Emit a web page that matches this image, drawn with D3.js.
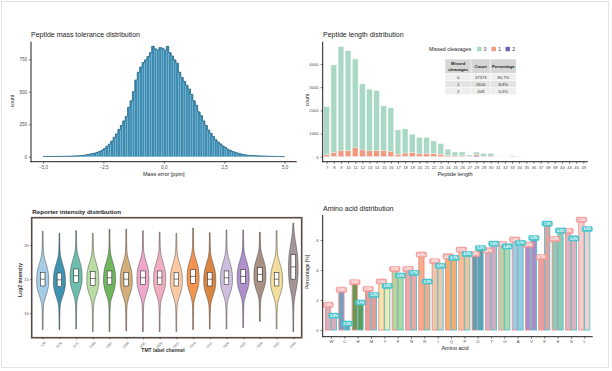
<!DOCTYPE html>
<html><head><meta charset="utf-8">
<script src="https://cdn.jsdelivr.net/npm/d3@7"></script>
<style>
body{margin:0;background:#fff}
text{font-family:"Liberation Sans",Arial,sans-serif}
</style>
</head><body>
<svg id="c" width="612" height="371"></svg>
<script>
// ---------------- DATA ----------------
// Panel 1: mass error histogram (bins of 0.1 ppm from -5 to 5)
const massBinStart = -5;
const massBinWidth = 0.1;
const massErrorCounts = [
  1,1,1,2,1,2,2,2,3,3,4,4,5,6,7,
  8,10,12,16,20,24,28,33,40,50,62,80,97,120,150,
  175,210,240,275,310,380,430,500,590,650,690,725,745,770,800,
  850,830,820,840,835,820,850,800,775,745,720,650,610,580,550,
  520,480,430,395,345,315,275,240,205,180,155,130,112,98,82,
  70,58,48,40,34,28,22,18,15,12,10,9,8,7,6,
  5,5,4,3,3,2,2,1,1,1];
const massErrorTicks = [-5, -2.5, 0, 2.5, 5];
const massCountTicks = [0, 250, 500, 750];

// Panel 2: peptide length by missed cleavages
const peptideLengths = ["7","8","9","10","11","12","13","14","15","16","17","18","19","20","21","22","23","24","25","26","27","28","29","30","31","32","33","34","35","36","37","38","39","40","43","45","49"];
const lengthMc0 = [2075,3770,4500,4305,3830,2850,2665,2595,1925,1880,1050,1045,785,700,680,540,460,275,170,170,55,110,120,115,8,4,30,10,3,2,2,1,1,1,1,1,1];
const lengthMc1 = [80,180,240,250,370,280,240,250,260,220,100,150,180,120,140,130,100,40,30,30,15,60,20,25,2,1,5,2,0,0,0,0,0,0,0,0,0];
const lengthMc2 = [5,10,12,12,15,12,10,10,10,10,8,8,8,8,6,6,5,4,3,3,2,30,2,2,0,0,0,0,0,0,0,0,0,0,0,0,0];
const missedCleavageKeys = ["0","1","2"];
const missedCleavageCounts = [37373, 3616, 208];
const lengthCountTicks = [0, 1000, 2000, 3000, 4000];

// Panel 3: reporter intensity violins
const tmtChannels = ["126","127N","127C","128N","128C","129N","129C","130N","130C","131N","131C","132N","132C","133N","133C","134N"];
const intensityMedian = [15.0,14.9,15.5,15.1,15.2,15.0,15.2,15.2,15.0,15.4,15.0,15.2,15.4,15.7,15.0,16.8];
const intensityQ1 = [14.0,13.9,14.5,14.1,14.2,14.0,14.2,14.2,14.0,14.4,14.0,14.2,14.4,14.7,14.0,15.0];
const intensityQ3 = [16.0,15.9,16.5,16.1,16.2,16.0,16.2,16.2,16.0,16.4,16.0,16.2,16.4,16.7,16.0,18.6];
const intensityMin = [7.6,7.6,7.7,7.3,7.3,7.4,7.3,7.3,7.3,7.6,7.7,7.7,7.9,8.8,7.7,7.3];
const intensityMax = [22.0,21.7,22.1,21.7,22.3,22.3,22.1,21.9,21.7,22.5,21.8,22.2,22.2,21.9,22.1,23.2];
const violinProfileOffset  = [-8,-6,-5,-4.2,-3.6,-3,-2.4,-1.8,-1.2,-0.6,0,0.6,1.2,1.8,2.4,3,3.6,4.2,5,6,8];
const violinProfileDensity = [0.05,0.06,0.08,0.11,0.18,0.34,0.56,0.78,0.93,1,1,0.97,0.88,0.72,0.52,0.32,0.18,0.11,0.08,0.06,0.05];
const violinSpread = [1,1,1,1,1,1,1,1,1,1,1,1,1,1,1,1.45];
const intensityTicks = [10, 15, 20];

// Panel 4: amino acid distribution
const aminoAcids = ["W","C","H","M","Y","F","N","R","I","Q","P","D","T","G","A","V","K","E","S","L"];
const aaPctObserved = [1.55,2.55,3.05,2.6,3.1,3.93,3.93,4.9,4.45,4.78,5.22,4.93,5.18,5.6,5.9,5.55,4.73,5.93,6.47,7.22];
const aaPctReference = [0.82,0.3,1.7,2.2,2.8,3.5,3.67,3.1,4.15,4.67,4.93,5.33,5.62,5.44,5.67,6.0,6.96,6.5,5.98,6.6];
const aaTicks = [0, 2, 4, 6];

// ---------------- STYLE ----------------
const mcColors = {"0":"#a9d9c5","1":"#f09a80","2":"#6c62b4"};
const violinColors = ["#9cc9e6","#2b87a9","#5db7a6","#b3d99b","#5fae4e","#cfa66e","#ee9fc8","#f2a6bb","#fbc49a","#f08a3e","#d6782e","#c9b8dc","#a785c9","#a08577","#f1dc92","#9c8b89"];
const aaColors = ["#d3a3b3","#5d93bb","#4e8d3c","#df8f8f","#f3e5a2","#a9d08e","#e39c9c","#f4a076","#e6c0a3","#f2a35e","#f6b889","#4c8fa6","#c9a2bc","#a9d2a2","#8fc2e0","#9a80c1","#e79191","#84c2aa","#d8a9b9","#f1c9c9"];
const obsColor = "#f28b8b", refColor = "#45c7cd";
const axisCol = "#1e1e1e", tickTxt = "#4d4d4d";
const commaFmt = f => (v => d3.format(f)(v).replace(".", ","));

const svg = d3.select("#c");
svg.append("rect").attr("x",1.5).attr("y",1.5).attr("width",607).attr("height",366)
  .attr("fill","#fff").attr("stroke","#e4e4e4").attr("stroke-width",1);

function line(x1,y1,x2,y2,w=1,c=axisCol){
  svg.append("line").attr("x1",x1).attr("y1",y1).attr("x2",x2).attr("y2",y2)
    .attr("stroke",c).attr("stroke-width",w);
}
function txt(x,y,s,size,opt={}){
  const t = svg.append("text").attr("x",x).attr("y",y).text(s)
    .attr("font-size",size).attr("fill",opt.fill||"#1a1a1a")
    .attr("text-anchor",opt.anchor||"start");
  if(opt.weight) t.attr("font-weight",opt.weight);
  if(opt.rotate!==undefined) t.attr("transform",`rotate(${opt.rotate},${x},${y})`);
  return t;
}
function styleAxis(g, size){
  g.select(".domain").remove();
  g.selectAll(".tick line").attr("stroke",axisCol).attr("stroke-width",0.6);
  g.selectAll(".tick text").attr("font-size",size).attr("fill",tickTxt)
    .attr("font-family","Liberation Sans, Arial, sans-serif");
}

// ============ Panel 1: histogram ============
{
  const x = d3.scaleLinear().domain([-5.5,5.5]).range([31,296.7]);
  const y = d3.scaleLinear().domain([0,750]).range([156.7,59.3]);
  const bins = massErrorCounts.map((c,i)=>({x0:massBinStart+i*massBinWidth, x1:massBinStart+(i+1)*massBinWidth, c}));
  svg.append("g").selectAll("rect").data(bins).join("rect")
    .attr("x",d=>x(d.x0)).attr("width",d=>x(d.x1)-x(d.x0))
    .attr("y",d=>y(d.c)).attr("height",d=>y(0)-y(d.c))
    .attr("fill","#3c8cb2").attr("stroke","#9ccbe0").attr("stroke-width",0.25);
  const pts = bins.map(d=>[d.x0,d.c]).concat([[bins[bins.length-1].x1, bins[bins.length-1].c]]);
  svg.append("path").attr("d", d3.line().x(d=>x(d[0])).y(d=>y(d[1])).curve(d3.curveStepAfter)(pts))
    .attr("fill","none").attr("stroke","#1b5e80").attr("stroke-width",0.8);
  line(31,41.7,31,162.2); line(30.5,161.7,296.7,161.7);
  const gx = svg.append("g").attr("transform","translate(0,161.7)")
    .call(d3.axisBottom(x).tickValues(massErrorTicks).tickSize(2).tickPadding(2).tickFormat(commaFmt(".1f")));
  styleAxis(gx,4.5);
  const gy = svg.append("g").attr("transform","translate(31,0)")
    .call(d3.axisLeft(y).tickValues(massCountTicks).tickSize(2).tickPadding(2).tickFormat(d3.format("d")));
  styleAxis(gy,4.5);
  txt(31,37,"Peptide mass tolerance distribution",7);
  txt(163.8,176,"Mass error [ppm]",5.5,{anchor:"middle"});
  txt(14,101,"count",5,{anchor:"middle",rotate:-90});
}

// ============ Panel 2: peptide length ============
{
  const x = d3.scalePoint().domain(peptideLengths).range([326.7,583.3]);
  const bw = x.step()*0.8;
  const y = d3.scaleLinear().domain([0,4000]).range([156.7,64]);
  const rows = peptideLengths.map((l,i)=>({len:l,"0":lengthMc0[i],"1":lengthMc1[i],"2":lengthMc2[i]}));
  const stacked = d3.stack().keys(["2","1","0"])(rows);
  svg.append("g").selectAll("g").data(stacked).join("g")
    .attr("fill",s=>mcColors[s.key])
    .selectAll("rect").data(s=>s).join("rect")
    .attr("x",d=>x(d.data.len)-bw/2).attr("width",bw)
    .attr("y",d=>y(d[1])).attr("height",d=>Math.max(0,y(d[0])-y(d[1])))
    .attr("stroke","#fff").attr("stroke-width",0.3);
  line(322.7,41.7,322.7,162.2); line(322.2,161.7,587.7,161.7);
  const gx = svg.append("g").attr("transform","translate(0,161.7)")
    .call(d3.axisBottom(x).tickSize(2).tickPadding(2));
  styleAxis(gx,4.2);
  const gy = svg.append("g").attr("transform","translate(322.7,0)")
    .call(d3.axisLeft(y).tickValues(lengthCountTicks).tickSize(2).tickPadding(2).tickFormat(d3.format("d")));
  styleAxis(gy,4.2);
  txt(323,37,"Peptide length distribution",7);
  txt(455,176,"Peptide length",5.5,{anchor:"middle"});
  txt(309,100,"count",5,{anchor:"middle",rotate:-90});

  // legend
  txt(429,51,"Missed cleavages",5.3);
  const lg = [479.3,493.7,507.7];
  missedCleavageKeys.forEach((k,i)=>{
    svg.append("rect").attr("x",lg[i]-2.2).attr("y",46.8).attr("width",4.4).attr("height",4.4).attr("fill",mcColors[k]);
    txt(lg[i]+4.5,51,k,5,{fill:"#333"});
  });
  // table
  const total = d3.sum(missedCleavageCounts);
  const cols = [445.3,471,490.5,516];
  const rowsY = [59.3,73.4,80.4,87.4,94.4];
  svg.append("rect").attr("x",cols[0]).attr("y",rowsY[0]).attr("width",cols[3]-cols[0]).attr("height",rowsY[1]-rowsY[0]).attr("fill","#d6d6d6");
  [0,1,2].forEach(i=>{
    svg.append("rect").attr("x",cols[0]).attr("y",rowsY[i+1]).attr("width",cols[3]-cols[0]).attr("height",rowsY[i+2]-rowsY[i+1])
      .attr("fill", i===1 ? "#e4e4e4" : "#efefef");
  });
  [1,2].forEach(j=>line(cols[j],rowsY[0],cols[j],rowsY[4],0.6,"#fff"));
  [1,2,3].forEach(j=>line(cols[0],rowsY[j],cols[3],rowsY[j],0.6,"#fff"));
  const cx = [(cols[0]+cols[1])/2,(cols[1]+cols[2])/2,(cols[2]+cols[3])/2];
  txt(cx[0],65.3,"Missed",4.2,{anchor:"middle",weight:"bold"});
  txt(cx[0],70.6,"cleavages",4.2,{anchor:"middle",weight:"bold"});
  txt(cx[1],68,"Count",4.2,{anchor:"middle",weight:"bold"});
  txt(cx[2],68,"Percentage",4.2,{anchor:"middle",weight:"bold"});
  missedCleavageKeys.forEach((k,i)=>{
    const yy = rowsY[i+1]+5.1;
    txt(cx[0],yy,k,4.2,{anchor:"middle",fill:"#333"});
    txt(cx[1],yy,String(missedCleavageCounts[i]),4.2,{anchor:"middle",fill:"#333"});
    txt(cx[2],yy,commaFmt(".1f")(missedCleavageCounts[i]/total*100)+"%",4.2,{anchor:"middle",fill:"#333"});
  });
}

// ============ Panel 3: violins ============
{
  const x = d3.scalePoint().domain(tmtChannels).range([42.7,293.3]);
  const y = d3.scaleLinear().domain([10,20]).range([313.3,245]);
  const halfW = 6.0;
  svg.append("rect").attr("x",31.7).attr("y",217.7).attr("width",270).attr("height",120)
    .attr("fill","#fff").attr("stroke","#5a4a44").attr("stroke-width",1.6);
  tmtChannels.forEach((ch,i)=>{
    const cx = x(ch), med = intensityMedian[i], lo = intensityMin[i], hi = intensityMax[i];
    const hw = i===15 ? 4.8 : halfW;
    svg.append("line").attr("x1",cx).attr("x2",cx).attr("y1",y(hi)).attr("y2",y(lo))
      .attr("stroke","#d39aa3").attr("stroke-width",1.3).attr("stroke-dasharray","0.9,1.1");
    const prof = violinProfileOffset.map((o,k)=>({v:med+o*violinSpread[i], w:violinProfileDensity[k]}))
      .filter(p=>p.v>lo && p.v<hi);
    const shape = [{v:lo,w:0.03}].concat(prof).concat([{v:hi,w:0.03}]);
    const area = d3.area().curve(d3.curveMonotoneY)
      .y(d=>y(d.v)).x0(d=>cx-Math.max(0.35,d.w*hw)).x1(d=>cx+Math.max(0.35,d.w*hw));
    svg.append("path").attr("d",area(shape)).attr("fill",violinColors[i]).attr("fill-opacity",0.9)
      .attr("stroke","#3a3a3a").attr("stroke-width",0.45);
    const bwid = 4.6;
    svg.append("rect").attr("x",cx-bwid/2).attr("width",bwid)
      .attr("y",y(intensityQ3[i])).attr("height",y(intensityQ1[i])-y(intensityQ3[i]))
      .attr("fill","#fff").attr("stroke","#222").attr("stroke-width",0.55);
    line(cx-bwid/2,y(med),cx+bwid/2,y(med),0.6,"#222");
  });
  const gy = svg.append("g").attr("transform","translate(31.7,0)")
    .call(d3.axisLeft(y).tickValues(intensityTicks).tickSize(1.5).tickPadding(1.5));
  styleAxis(gy,4);
  const gx = svg.append("g").attr("transform","translate(0,337.7)")
    .call(d3.axisBottom(x).tickSize(1.5).tickPadding(1));
  styleAxis(gx,3.2);
  gx.selectAll(".tick text").attr("text-anchor","end").attr("dy","0.3em")
    .attr("transform","translate(0,3) rotate(-45)");
  txt(32.3,213.5,"Reporter intensity distribution",6.2,{weight:"bold",fill:"#222"});
  txt(163,351.5,"TMT label channel",5,{anchor:"middle",weight:"bold",fill:"#333"});
  txt(21.5,280,"Log2 intensity",5,{anchor:"middle",rotate:-90,weight:"bold",fill:"#333"});
}

// ============ Panel 4: amino acids ============
{
  const x = d3.scalePoint().domain(aminoAcids).range([331,584.3]);
  const bw = 5.2;
  const y = d3.scaleLinear().domain([0,6]).range([330,240]);
  const pct = commaFmt(".1f");
  const series = [
    {vals:aaPctObserved, off:-bw/2-0.3, col:obsColor, lab:"#f5aaaa"},
    {vals:aaPctReference, off:bw/2+0.3, col:refColor, lab:"#4fc6cc"}];
  series.forEach(s=>{
    svg.append("g").selectAll("rect").data(aminoAcids).join("rect")
      .attr("x",(a)=>x(a)+s.off-bw/2).attr("width",bw)
      .attr("y",(a,i)=>y(s.vals[i])).attr("height",(a,i)=>y(0)-y(s.vals[i]))
      .attr("fill",(a,i)=>aaColors[i]).attr("fill-opacity",0.88)
      .attr("stroke",s.col).attr("stroke-width",0.9);
  });
  series.forEach(s=>{
    const g = svg.append("g").selectAll("g").data(aminoAcids).join("g")
      .attr("transform",(a,i)=>`translate(${x(a)+s.off},${y(s.vals[i])-2})`);
    g.append("rect").attr("x",-5.2).attr("y",-2.6).attr("width",10.4).attr("height",5.2).attr("rx",1.2)
      .attr("fill",s.lab).attr("stroke",s.col).attr("stroke-width",0.5);
    g.append("text").attr("text-anchor","middle").attr("y",1.2).attr("font-size",3.2)
      .attr("font-weight","bold").attr("fill","#fff").text((a,i)=>pct(s.vals[i])+"%");
  });
  line(322.7,215,322.7,337.2); line(322.2,336.7,592.7,336.7);
  const gy = svg.append("g").attr("transform","translate(322.7,0)")
    .call(d3.axisLeft(y).tickValues(aaTicks).tickSize(2).tickPadding(2).tickFormat(d3.format("d")));
  styleAxis(gy,4.3);
  const gx = svg.append("g").attr("transform","translate(0,336.7)")
    .call(d3.axisBottom(x).tickSize(2).tickPadding(1.5));
  styleAxis(gx,4.3);
  txt(323,210.5,"Amino acid distribution",7);
  txt(455,349.5,"Amino acid",5.5,{anchor:"middle"});
  txt(309,272,"Percentage [%]",5,{anchor:"middle",rotate:-90});
}
</script>
</body></html>
